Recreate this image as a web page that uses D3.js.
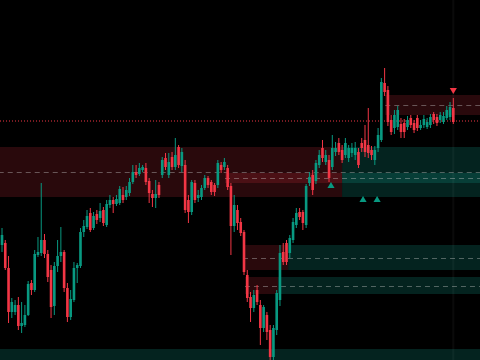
<!DOCTYPE html>
<html>
<head>
<meta charset="utf-8">
<script src="https://cdn.jsdelivr.net/npm/d3@7"></script>
<style>
  html, body { margin: 0; padding: 0; background: #000; }
  svg { display: block; }
</style>
</head>
<body>
<svg id="chart" width="480" height="360"></svg>
<script>
// candles, oldest first
var opens = [111.5,111.7,109.2,104.8,104.8,105.5,103.4,103.5,104.5,107.7,
  107.0,110.5,110.7,112.0,110.6,109.0,105.4,109.4,110.4,110.8,
  107.2,104.3,106.0,109.2,109.4,112.8,113.3,114.7,113.2,114.6,
  114.2,115.0,113.5,115.5,116.0,115.6,115.7,116.5,116.3,116.7,
  117.8,118.8,118.6,119.0,119.2,117.9,116.6,116.2,117.5,118.5,
  120.2,118.5,120.3,119.3,121.3,119.4,119.5,116.0,114.8,117.7,
  116.2,116.3,117.2,118.2,117.8,117.5,117.5,119.5,119.3,119.2,
  117.4,113.4,115.0,113.8,112.8,108.5,106.3,105.2,107.0,105.5,
  103.2,104.5,103.0,100.3,103.0,106.0,110.8,111.7,110.7,112.0,
  113.5,114.8,114.8,113.5,117.7,118.5,117.9,119.5,121.2,119.8,
  120.0,119.3,120.8,121.7,121.0,120.5,120.2,120.7,120.5,120.8,
  121.7,122.0,121.5,121.0,120.0,121.2,122.0,127.7,127.0,124.0,
  123.2,123.3,123.6,123.7,123.3,124.2,123.7,124.2,123.2,123.5,
  123.3,123.5,124.6,124.3,124.0,123.8,124.2,124.3,125.2];
var highs = [113.2,112.0,110.4,106.2,106.0,106.3,105.8,105.5,107.9,108.0,
  111.0,112.3,117.7,112.6,111.0,109.5,109.8,112.0,113.3,111.0,
  107.7,107.0,109.8,109.7,113.2,114.0,115.0,115.2,114.8,115.0,
  115.7,115.3,116.0,116.5,116.3,116.5,117.4,117.3,117.4,118.2,
  119.5,119.5,119.7,119.5,119.7,118.2,117.0,118.0,117.8,120.3,
  120.7,120.7,120.8,122.2,121.5,121.2,120.0,116.5,118.0,118.0,
  117.0,117.5,118.5,118.4,118.0,117.7,120.0,119.8,120.2,119.5,
  117.7,116.5,115.5,114.2,113.0,109.0,106.8,107.0,107.5,106.0,
  105.5,104.8,103.5,103.5,107.0,111.5,111.7,112.0,112.5,114.2,
  115.2,115.2,115.0,117.6,118.8,119.0,120.0,121.0,122.0,121.0,
  120.5,122.5,121.8,122.2,121.5,122.2,121.5,121.7,121.8,121.2,
  122.2,123.5,125.2,121.4,121.4,123.2,128.2,129.2,127.4,124.5,
  125.0,125.4,124.2,124.1,124.4,124.5,124.0,124.5,124.0,124.5,
  124.2,124.6,124.8,124.6,124.8,124.8,125.4,125.8,126.2];
var lows = [110.8,109.0,103.7,104.2,104.5,103.0,102.7,103.3,104.4,106.5,
  106.8,110.3,110.4,110.2,107.8,104.2,104.5,108.8,109.8,106.8,
  103.8,104.0,105.8,107.7,109.2,112.3,113.1,112.8,113.0,113.6,
  113.8,113.4,113.3,115.2,114.7,115.4,115.5,115.7,116.0,116.4,
  117.6,118.2,118.4,118.8,117.5,115.7,115.3,115.2,116.2,118.2,
  119.0,118.2,119.0,119.0,119.2,118.8,114.7,113.7,114.5,115.7,
  115.8,116.0,117.0,117.2,116.5,116.4,117.2,118.7,119.0,117.0,
  110.5,112.8,113.0,112.4,108.5,105.8,103.8,104.8,105.5,101.5,
  102.8,102.0,99.8,100.0,102.5,105.4,109.5,109.5,110.2,111.7,
  113.2,114.0,113.0,113.2,117.4,116.5,117.6,119.2,119.8,119.5,
  117.8,119.0,120.4,120.5,119.7,120.2,119.8,120.3,120.0,119.2,
  120.8,120.3,120.2,120.0,119.5,120.8,121.8,126.4,123.4,122.5,
  122.6,123.0,122.2,122.2,123.0,123.2,122.7,122.9,123.0,123.2,
  123.1,123.2,123.6,123.4,123.7,123.6,124.0,124.0,123.6];
var closes = [112.5,109.2,104.8,105.8,105.5,103.4,103.7,104.5,107.6,107.0,
  110.6,110.8,112.0,110.6,108.3,105.3,109.4,110.4,110.8,107.2,
  104.3,106.1,109.2,109.5,112.8,113.4,114.4,113.0,114.4,114.0,
  114.9,113.7,115.6,116.0,115.6,116.1,117.1,116.0,117.0,117.8,
  118.8,118.5,119.2,119.3,117.8,116.7,116.2,116.6,116.5,120.0,
  119.3,119.8,119.3,120.5,119.5,120.8,115.0,114.8,117.8,116.0,
  116.5,117.2,118.2,117.5,116.8,116.8,119.7,119.0,119.8,117.3,
  113.4,115.5,113.7,112.7,108.8,106.2,105.2,106.5,105.8,103.2,
  105.3,102.8,100.3,103.2,106.7,110.7,109.8,109.8,112.2,113.8,
  114.7,114.3,113.7,117.4,118.3,117.0,119.7,120.5,120.2,120.5,
  118.2,121.2,121.2,120.8,120.0,121.7,121.2,121.2,121.2,119.5,
  121.2,120.8,120.7,120.5,121.0,122.5,127.8,126.8,123.8,122.8,
  124.5,125.0,122.8,122.8,124.0,123.5,123.0,123.2,123.5,124.1,
  123.8,124.3,124.0,123.7,124.5,124.4,125.0,125.3,123.8];

// supply / demand zones (bar index where they start, bar where price flipped them)
var zoneTops    = [121.3, 118.7, 126.5, 111.5, 108.3, 101.1];
var zoneBottoms = [116.3, 117.7, 124.5, 109.0, 106.6, 98.5];
var zoneStarts  = [-1, 68.2, 117.2, 73.7, 74.3, -1];
var zoneFlips   = [104, 104, null, 87.5, 84.4, -1];

var lastLevel = 123.9;
var buyBars = [100.6, 110.4, 114.7];
var buyPrices = [117.4, 116.0, 116.0];
var sellBars = [138];
var sellPrices = [127.0];

var width = 480, height = 360;
var n = opens.length;
var endBar = n + 9;

var x = d3.scaleLinear().domain([0, n - 1]).range([2, 453.3]);
var y = d3.scaleLinear().domain([100, 136]).range([height, 0]);
var step = x(1) - x(0);
var bodyW = step * 0.8;

var up = '#089981', down = '#f23645';

var svg = d3.select('#chart');
svg.append('rect').attr('width', width).attr('height', height).attr('fill', '#000');

// zones
var zg = svg.append('g');
for (var i = 0; i < zoneTops.length; i++) {
  var s = zoneStarts[i], f = zoneFlips[i];
  var redEnd = f === null ? endBar : f;
  if (redEnd > s) {
    zg.append('rect')
      .attr('x', x(s)).attr('y', y(zoneTops[i]))
      .attr('width', x(redEnd) - x(s))
      .attr('height', y(zoneBottoms[i]) - y(zoneTops[i]))
      .attr('fill', 'rgba(242,54,69,0.17)');
  }
  if (f !== null) {
    zg.append('rect')
      .attr('x', x(f)).attr('y', y(zoneTops[i]))
      .attr('width', x(endBar) - x(f))
      .attr('height', y(zoneBottoms[i]) - y(zoneTops[i]))
      .attr('fill', 'rgba(20,160,140,0.22)');
  }
}
for (var i = 0; i < zoneTops.length; i++) {
  var mid = (zoneTops[i] + zoneBottoms[i]) / 2;
  zg.append('line')
    .attr('x1', x(zoneStarts[i])).attr('x2', x(endBar))
    .attr('y1', Math.round(y(mid)) + 0.5).attr('y2', Math.round(y(mid)) + 0.5)
    .attr('stroke', 'rgba(200,200,200,0.4)')
    .attr('stroke-dasharray', '5,4');
}

// last level
svg.append('line')
  .attr('x1', 0).attr('x2', width)
  .attr('y1', Math.round(y(lastLevel))).attr('y2', Math.round(y(lastLevel)))
  .attr('stroke', down)
  .attr('stroke-dasharray', '1,2');

// current bar marker
svg.append('line')
  .attr('x1', x(n - 1)).attr('x2', x(n - 1))
  .attr('y1', 0).attr('y2', height)
  .attr('stroke', 'rgba(255,255,255,0.04)').attr('stroke-width', 2);

// candles
var bars = d3.range(n);
var cg = svg.append('g');
cg.selectAll('line.wick').data(bars).enter().append('line')
  .attr('class', 'wick')
  .attr('x1', function(d) { return x(d); })
  .attr('x2', function(d) { return x(d); })
  .attr('y1', function(d) { return y(highs[d]); })
  .attr('y2', function(d) { return y(lows[d]); })
  .attr('stroke', function(d) { return closes[d] >= opens[d] ? up : down; })
  .attr('stroke-width', 1);
cg.selectAll('rect.body').data(bars).enter().append('rect')
  .attr('class', 'body')
  .attr('x', function(d) { return x(d) - bodyW / 2; })
  .attr('width', bodyW)
  .attr('y', function(d) { return y(Math.max(opens[d], closes[d])); })
  .attr('height', function(d) { return Math.max(1, Math.abs(y(opens[d]) - y(closes[d]))); })
  .attr('fill', function(d) { return closes[d] >= opens[d] ? up : down; });

// signals
var tri = d3.symbol().type(d3.symbolTriangle).size(22);
svg.selectAll('path.buy').data(buyBars).enter().append('path')
  .attr('class', 'buy')
  .attr('d', tri)
  .attr('transform', function(d, i) { return 'translate(' + x(d) + ',' + y(buyPrices[i]) + ')'; })
  .attr('fill', up);
svg.selectAll('path.sell').data(sellBars).enter().append('path')
  .attr('class', 'sell')
  .attr('d', tri)
  .attr('transform', function(d, i) { return 'translate(' + x(d) + ',' + y(sellPrices[i]) + ') rotate(180)'; })
  .attr('fill', down);
</script>
</body>
</html>
